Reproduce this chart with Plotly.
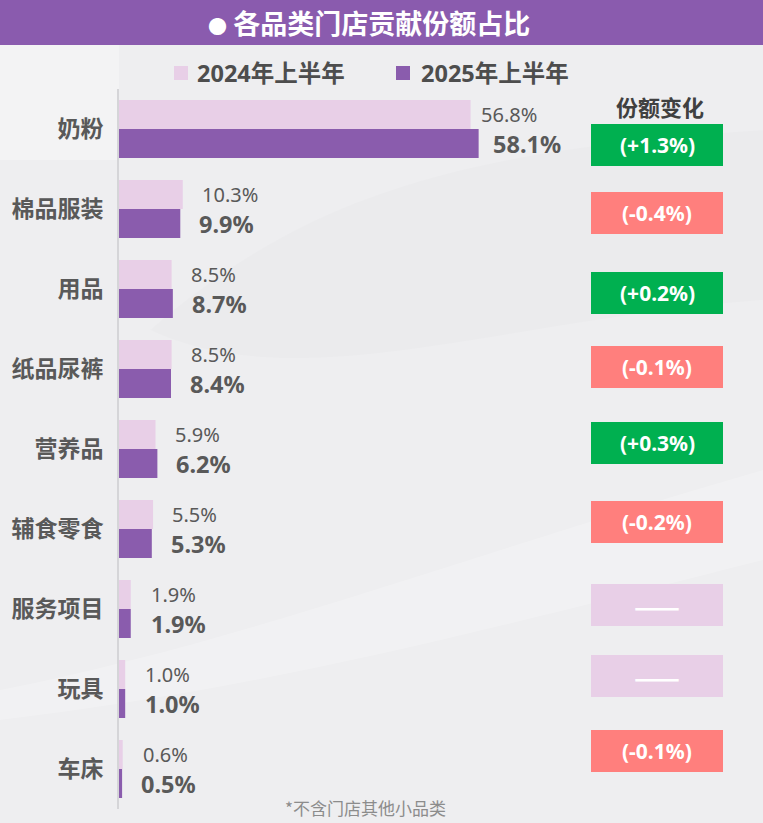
import plotly.graph_objects as go

# ---------------- data ----------------
categories = ['奶粉', '棉品服装', '用品', '纸品尿裤', '营养品', '辅食零食', '服务项目', '玩具', '车床']
share_2024 = [56.8, 10.3, 8.5, 8.5, 5.9, 5.5, 1.9, 1.0, 0.6]
share_2025 = [58.1, 9.9, 8.7, 8.4, 6.2, 5.3, 1.9, 1.0, 0.5]
share_change = [1.3, -0.4, 0.2, -0.1, 0.3, -0.2, 0.0, 0.0, -0.1]
series_names = ['2024年上半年', '2025年上半年']
title_text = '各品类门店贡献份额占比'
change_header = '份额变化'
footnote = '*不含门店其他小品类'

# ---------------- style ----------------
W, H = 763, 823
L, R, T, B = 119, 763, 89, 809          # plot area in px
PX_PER_UNIT = 6.19
C_LIGHT = '#E8CFE7'
C_DARK = '#8A5CAD'
C_GREEN = '#00B050'
C_RED = '#FF7F7D'
C_TEXT = '#595959'
NUM_FONT = 'Noto Sans, Noto Sans CJK SC'
CJK_FONT = 'Noto Sans CJK SC'
# per-row style: label x-shift and box vertical centre (px)
label_shift_2024 = [8, 17, 17, 17, 17, 17, 18, 18, 18]
label_shift_2025 = [12, 17, 17, 17, 17, 17, 18, 18, 17]
box_center_px = [145, 213, 293, 367, 443, 522, 605, 676, 751]
BOX_X0, BOX_X1, BOX_H = 591, 723, 42


def px_x(px):
    return (px - L) / (R - L)


def px_y(py):
    return (B - py) / (B - T)


fig = go.Figure()
fig.add_trace(go.Bar(orientation='h', y=categories, x=share_2024, name=series_names[0],
                     marker=dict(color=C_LIGHT, line=dict(width=0)), hoverinfo='x+y'))
fig.add_trace(go.Bar(orientation='h', y=categories, x=share_2025, name=series_names[1],
                     marker=dict(color=C_DARK, line=dict(width=0)), hoverinfo='x+y'))

shapes = []
annotations = []

# background decorations (soft light bands)
shapes.append(dict(type='path', xref='paper', yref='paper', layer='below',
                   path=f'M {px_x(0)},{px_y(45)} L {px_x(119)},{px_y(45)} L {px_x(119)},{px_y(160)} L {px_x(0)},{px_y(160)} Z',
                   fillcolor='rgba(255,255,255,0.3)', line=dict(width=0)))
shapes.append(dict(type='path', xref='paper', yref='paper', layer='below',
                   path=f'M {px_x(0)},{px_y(690)} C {px_x(250)},{px_y(640)} {px_x(450)},{px_y(560)} {px_x(763)},{px_y(470)} '
                        f'L {px_x(763)},{px_y(560)} C {px_x(450)},{px_y(640)} {px_x(250)},{px_y(690)} {px_x(0)},{px_y(720)} Z',
                   fillcolor='rgba(255,255,255,0.2)', line=dict(width=0)))
shapes.append(dict(type='path', xref='paper', yref='paper', layer='below',
                   path=f'M {px_x(150)},{px_y(330)} C {px_x(300)},{px_y(200)} {px_x(450)},{px_y(150)} {px_x(763)},{px_y(130)} '
                        f'L {px_x(763)},{px_y(300)} C {px_x(500)},{px_y(320)} {px_x(300)},{px_y(400)} {px_x(150)},{px_y(330)} Z',
                   fillcolor='rgba(0,0,0,0.012)', line=dict(width=0)))

# title bar
shapes.append(dict(type='rect', xref='paper', yref='paper', x0=px_x(0), x1=px_x(763),
                   y0=px_y(45), y1=px_y(0), fillcolor='#8A5BAE', line=dict(width=0)))
annotations.append(dict(xref='paper', yref='paper', x=px_x(369), y=px_y(22),
                        text='<span style="font-size:19px">●</span> ' + title_text,
                        showarrow=False, xanchor='center', yanchor='middle',
                        font=dict(family=CJK_FONT, size=27, color='white', weight='bold')))

# legend
legend_items = [(174, 188, 195, C_LIGHT), (396, 410, 419, C_DARK)]
for (sx0, sx1, tx, col), name in zip(legend_items, series_names):
    shapes.append(dict(type='rect', xref='paper', yref='paper', x0=px_x(sx0), x1=px_x(sx1),
                       y0=px_y(80), y1=px_y(66), fillcolor=col, line=dict(width=0)))
    annotations.append(dict(xref='paper', yref='paper', x=px_x(tx), y=px_y(73), text=name,
                            showarrow=False, xanchor='left', yanchor='middle',
                            font=dict(family=NUM_FONT, size=23.5, color='#4D4D4D', weight='bold')))

# value labels
for i, cat in enumerate(categories):
    annotations.append(dict(xref='x', yref='y', x=share_2024[i], y=cat, text=f'{share_2024[i]:.1f}%',
                            showarrow=False, xanchor='left', yanchor='middle',
                            xshift=label_shift_2024[i], yshift=14.5,
                            font=dict(family=NUM_FONT, size=20, color=C_TEXT)))
    annotations.append(dict(xref='x', yref='y', x=share_2025[i], y=cat, text=f'{share_2025[i]:.1f}%',
                            showarrow=False, xanchor='left', yanchor='middle',
                            xshift=label_shift_2025[i], yshift=-14.5,
                            font=dict(family=NUM_FONT, size=23.5, color=C_TEXT, weight='bold')))

# change header + boxes
annotations.append(dict(xref='paper', yref='paper', x=px_x(660), y=px_y(106), text=change_header,
                        showarrow=False, xanchor='center', yanchor='middle',
                        font=dict(family=CJK_FONT, size=22, color='#404040', weight='bold')))
for i, ch in enumerate(share_change):
    if ch > 0:
        col, txt = C_GREEN, f'(+{ch:.1f}%)'
    elif ch < 0:
        col, txt = C_RED, f'(-{abs(ch):.1f}%)'
    else:
        col, txt = C_LIGHT, '——'
    cy = box_center_px[i]
    shapes.append(dict(type='rect', xref='paper', yref='paper', x0=px_x(BOX_X0), x1=px_x(BOX_X1),
                       y0=px_y(cy + BOX_H / 2), y1=px_y(cy - BOX_H / 2), fillcolor=col, line=dict(width=0)))
    if ch != 0:
        fnt = dict(family=NUM_FONT, size=21, color='white', weight='bold')
    else:
        fnt = dict(family=CJK_FONT, size=27, color='white', weight='bold')
    annotations.append(dict(xref='paper', yref='paper', x=px_x((BOX_X0 + BOX_X1) / 2), y=px_y(cy), text=txt,
                            showarrow=False, xanchor='center', yanchor='middle', font=fnt))

# footnote
annotations.append(dict(xref='paper', yref='paper', x=px_x(283), y=px_y(807), text=footnote,
                        showarrow=False, xanchor='left', yanchor='middle',
                        font=dict(family=CJK_FONT, size=17, color='#8C8C8C')))

fig.update_layout(
    width=W, height=H,
    margin=dict(l=L, r=W - R, t=T, b=H - B, pad=0),
    paper_bgcolor='#EEEEF0', plot_bgcolor='rgba(0,0,0,0)',
    barmode='group', bargap=0.275, bargroupgap=0,
    showlegend=False,
    xaxis=dict(range=[0, (R - L) / PX_PER_UNIT], visible=False, fixedrange=True),
    yaxis=dict(type='category', categoryorder='array', categoryarray=categories,
               range=[len(categories) - 0.5, -0.5], showgrid=False, zeroline=False,
               showline=True, linecolor='#D5D5D8', linewidth=2,
               ticks='outside', ticklen=9, tickcolor='rgba(0,0,0,0)',
               tickfont=dict(family=CJK_FONT, size=23, color=C_TEXT, weight='bold')),
    shapes=shapes, annotations=annotations,
)

fig.write_html('out.html')
